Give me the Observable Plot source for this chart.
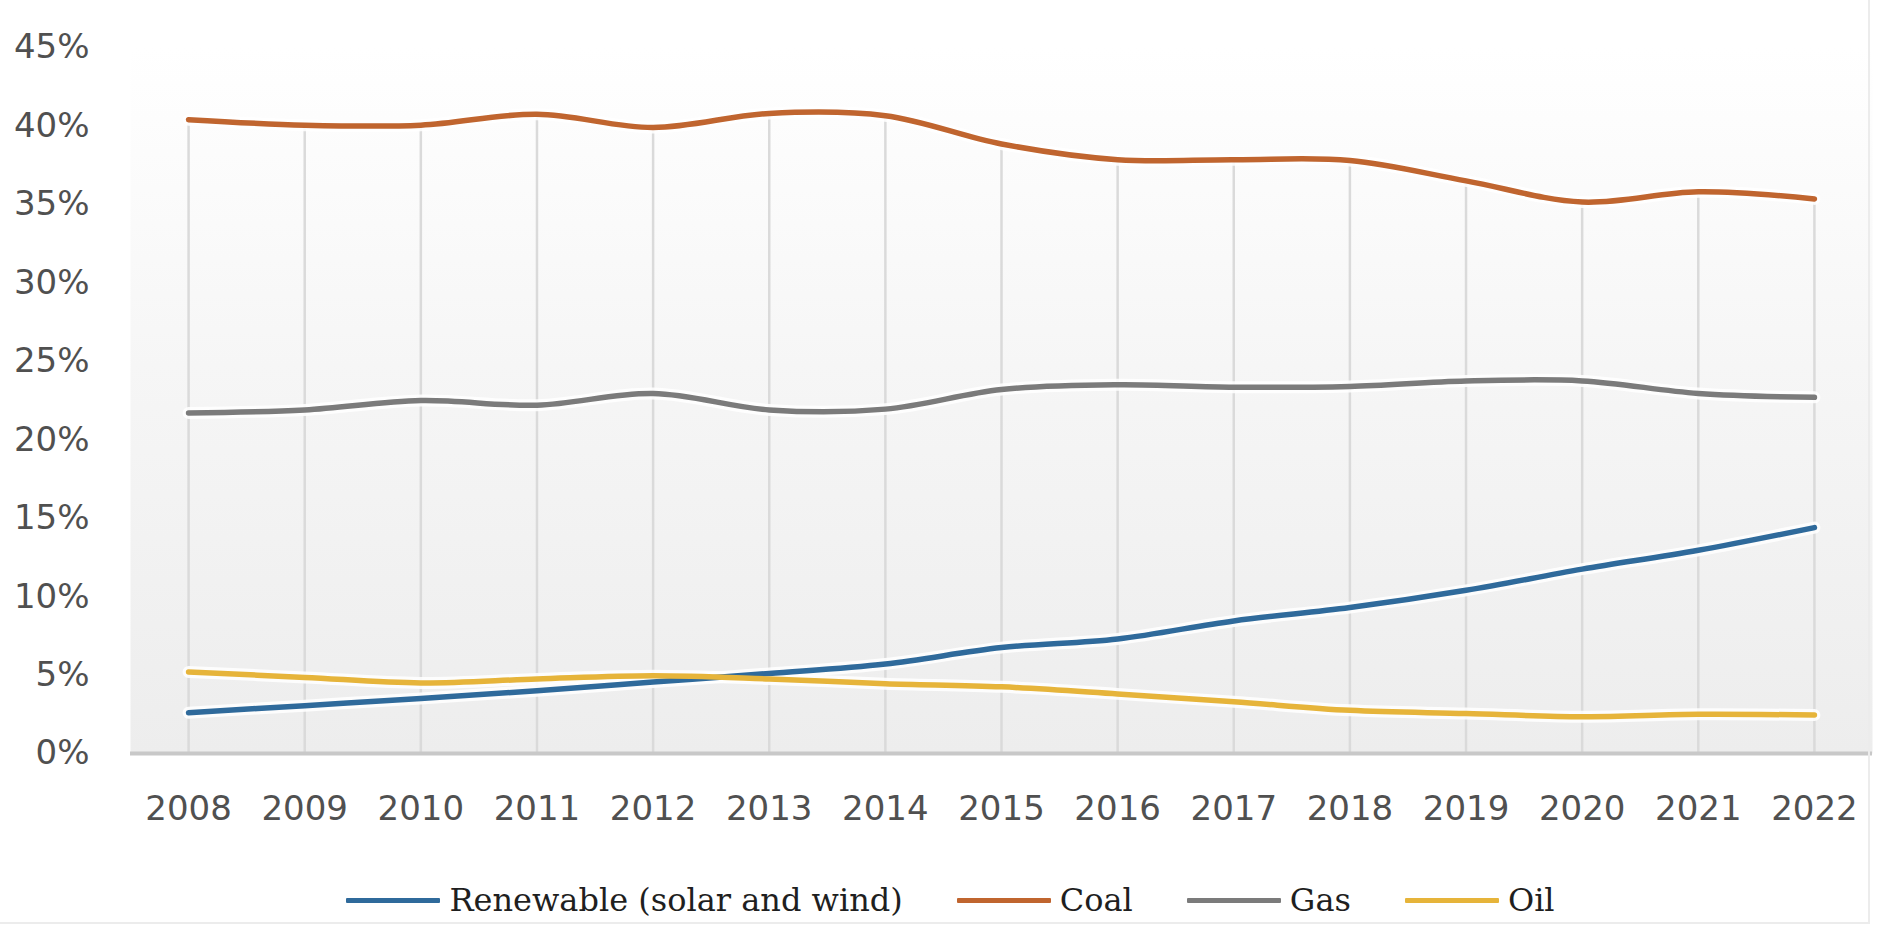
<!DOCTYPE html>
<html>
<head>
<meta charset="utf-8">
<script src="https://cdn.jsdelivr.net/npm/d3@7"></script>
<script src="https://cdn.jsdelivr.net/npm/@observablehq/plot@0.6"></script>
<style>
  html, body { margin: 0; padding: 0; background: #ffffff; }
  #wrap { position: relative; width: 1901px; height: 951px; overflow: hidden; }
  #border { position: absolute; left: 0; top: 0; width: 1868px; height: 922px;
            border-right: 2px solid #ececec; border-bottom: 2px solid #ececec; pointer-events: none; }
  #legend { position: absolute; left: 0; top: 850px; width: 1901px; height: 100px;
            display: flex; align-items: center; justify-content: center;
            font-family: "DejaVu Serif", "Liberation Serif", serif; font-size: 32px; color: #1f1f1f; }
  .item { display: flex; align-items: center; }
  .item + .item { margin-left: 54px; }
  .sw { width: 94px; height: 5px; margin-right: 9px; border-radius: 1px; }
</style>
</head>
<body>
<div id="wrap">
  <div id="chart"></div>
  <div id="legend"></div>
  <div id="border"></div>
</div>
<script>
// ---- data ----
const years = [2008, 2009, 2010, 2011, 2012, 2013, 2014, 2015, 2016, 2017, 2018, 2019, 2020, 2021, 2022];
const seriesNames = ["Renewable (solar and wind)", "Coal", "Gas", "Oil"];
const seriesColors = ["#2f6a9b", "#c0652f", "#7b7b7b", "#e6b43a"];
const renewable = [2.6, 3.05, 3.5, 4.0, 4.55, 5.1, 5.7, 6.75, 7.3, 8.45, 9.3, 10.4, 11.75, 12.95, 14.4];
const coal      = [40.4, 40.05, 40.05, 40.75, 39.9, 40.8, 40.65, 38.85, 37.85, 37.85, 37.8, 36.5, 35.15, 35.8, 35.35];
const gas       = [21.7, 21.9, 22.5, 22.2, 22.95, 21.9, 21.95, 23.2, 23.5, 23.35, 23.4, 23.75, 23.75, 22.95, 22.7];
const oil       = [5.2, 4.85, 4.5, 4.75, 4.95, 4.75, 4.45, 4.25, 3.8, 3.3, 2.75, 2.55, 2.35, 2.5, 2.45];
const yTicks = [0, 5, 10, 15, 20, 25, 30, 35, 40, 45];

const seriesValues = [renewable, coal, gas, oil];
const rows = [];
seriesNames.forEach((name, i) => {
  years.forEach((yr, j) => rows.push({series: name, year: yr, value: seriesValues[i][j]}));
});
const coalRows = rows.filter(d => d.series === "Coal");

const chart = Plot.plot({
  width: 1901,
  height: 850,
  marginLeft: 130,
  marginRight: 29,
  marginTop: 47,
  marginBottom: 97,
  style: { fontFamily: "DejaVu Sans, sans-serif", fontSize: "34px", color: "#505050", background: "transparent" },
  x: { domain: [2007.5, 2022.5] },
  y: { domain: [0, 45] },
  color: { domain: seriesNames, range: seriesColors },
  marks: [
    Plot.frame({ fill: "url(#plotBg)", stroke: "none" }),
    Plot.ruleX(coalRows, { x: "year", y1: 0, y2: "value", stroke: "#dadada", strokeWidth: 2.5 }),
    Plot.ruleY([0], { stroke: "#c8c8c8", strokeWidth: 4 }),
    Plot.line(rows, { x: "year", y: "value", z: "series", stroke: "white", strokeWidth: 12, strokeOpacity: 0.85, curve: "catmull-rom" }),
    Plot.line(rows, { x: "year", y: "value", z: "series", stroke: "series", strokeWidth: 5.5, curve: "catmull-rom" }),
    Plot.axisX({ ticks: years, tickFormat: d => String(d), tickSize: 0, tickPadding: 42, label: null }),
    Plot.axisY({ ticks: yTicks, tickFormat: d => d + "%", tickSize: 0, tickPadding: 41, label: null })
  ]
});

// gradient background for plot area
const svg = d3.select(chart);
const defs = svg.insert("defs", ":first-child");
const grad = defs.append("linearGradient").attr("id", "plotBg").attr("x1", 0).attr("y1", 0).attr("x2", 0).attr("y2", 1);
grad.append("stop").attr("offset", "0%").attr("stop-color", "#ffffff");
grad.append("stop").attr("offset", "45%").attr("stop-color", "#f6f6f6");
grad.append("stop").attr("offset", "100%").attr("stop-color", "#ededed");

document.getElementById("chart").appendChild(chart);

// legend
const legend = document.getElementById("legend");
seriesNames.forEach((name, i) => {
  const item = document.createElement("div");
  item.className = "item";
  const sw = document.createElement("div");
  sw.className = "sw";
  sw.style.background = seriesColors[i];
  const label = document.createElement("span");
  label.textContent = name;
  item.appendChild(sw);
  item.appendChild(label);
  legend.appendChild(item);
});
</script>
</body>
</html>
